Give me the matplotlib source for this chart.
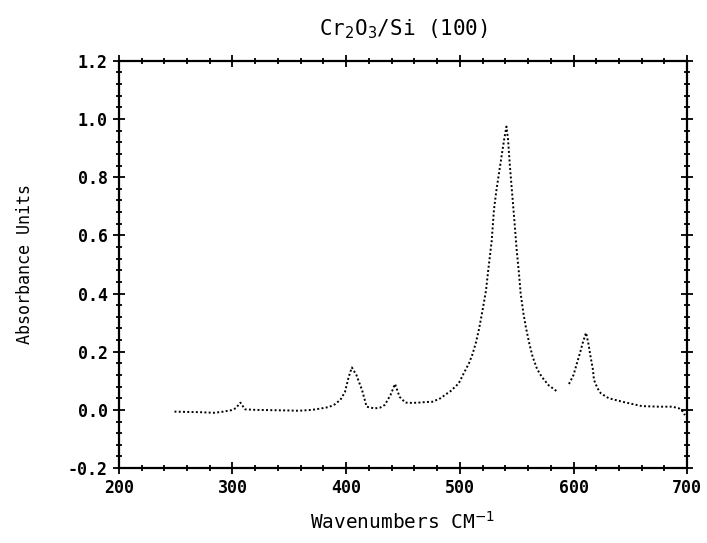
import numpy as np
import matplotlib
matplotlib.use("Agg")
import matplotlib.pyplot as plt
from matplotlib.ticker import MultipleLocator

# spectrum (NaN = gap in the trace)
wavenumber = [249, 260, 272, 284, 292, 299, 303, 307, 311, 320, 335, 350, 358, 370, 378,
              385, 390, 395, 399, 402, 405, 409, 414, 418, 425, 430, 434, 439, 443, 447,
              452, 458, 464, 470, 476, 483, 489, 492, 496, 499, 504, 508, 511, 514, 517,
              520, 523, 525, 528, 530, 532, 534, 537, 539, 541, 542.4, 544, 546, 548,
              550, 552, 553.5, 556, 558, 561, 564, 568, 572, 578, 586, 591, 596, 600,
              603, 606, 608, 611, 613, 615, 617, 618, 621, 624, 628, 631, 643, 660, 675,
              687, 693, 696, 698]
absorbance = [-0.006, -0.007, -0.008, -0.01, -0.006, -0.001, 0.006, 0.025, 0.002, 0.0, -0.001,
              -0.002, -0.003, 0.0, 0.005, 0.01, 0.019, 0.035, 0.062, 0.11, 0.146, 0.12,
              0.068, 0.011, 0.005, 0.008, 0.017, 0.051, 0.089, 0.045, 0.025, 0.024, 0.025,
              0.027, 0.028, 0.04, 0.057, 0.065, 0.08, 0.091, 0.13, 0.16, 0.19, 0.229, 0.28,
              0.343, 0.41, 0.481, 0.58, 0.687, 0.75, 0.802, 0.88, 0.93, 0.974, 0.93, 0.84,
              0.745, 0.65, 0.55, 0.47, 0.40, 0.33, 0.286, 0.23, 0.183, 0.14, 0.114, 0.085,
              0.062, np.nan, 0.089, 0.12, 0.16, 0.2, 0.229, 0.265, 0.23, 0.183, 0.14, 0.103,
              0.075, 0.057, 0.047, 0.04, 0.028, 0.013, 0.011, 0.011, 0.005, -0.005, -0.018]

plt.rcParams['font.family'] = ['DejaVu Sans Mono']

fig = plt.figure(figsize=(7.07, 5.43), dpi=100)
ax = fig.add_axes([0.168, 0.138, 0.804, 0.750])

ax.plot(wavenumber, absorbance, color='black', linestyle=(0, (1, 1.2)), linewidth=1.4)

ax.set_xlim(200, 700)
ax.set_ylim(-0.2, 1.2)
ax.xaxis.set_major_locator(MultipleLocator(100))
ax.xaxis.set_minor_locator(MultipleLocator(20))
ax.yaxis.set_major_locator(MultipleLocator(0.2))
ax.yaxis.set_minor_locator(MultipleLocator(0.04))
ax.yaxis.set_major_formatter(plt.FuncFormatter(lambda v, p: "%.1f" % v))

ax.tick_params(which='both', direction='inout', top=True, right=True,
               labeltop=False, labelright=False, width=1.3, labelsize=12)
ax.tick_params(which='major', length=9)
ax.tick_params(which='minor', length=4)
for lab in ax.get_xticklabels() + ax.get_yticklabels():
    lab.set_fontweight('bold')
for s in ax.spines.values():
    s.set_linewidth(1.6)

ax.set_title("Cr$_2$O$_3$/Si (100)", fontsize=15, pad=18)
ax.set_xlabel("Wavenumbers CM$^{-1}$", fontsize=14, labelpad=10)
ax.set_ylabel("Absorbance Units", fontsize=12, labelpad=24)

fig.savefig("out.png", dpi=100)
